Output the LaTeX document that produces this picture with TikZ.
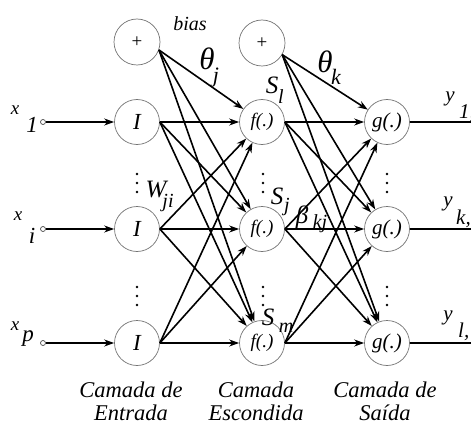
\documentclass[tikz,border=0pt]{standalone}
\usepackage{fontspec}
\setmainfont{Liberation Serif}
\usetikzlibrary{arrows.meta}
\newcommand{\fsz}[1]{\fontsize{#1}{#1}\selectfont}
\begin{document}
\begin{tikzpicture}[x=1pt,y=-1pt,
  neuron/.style={circle,draw=black!55,line width=0.7pt,minimum size=45pt,inner sep=0pt,font=\itshape\fsz{23}},
  conn/.style={line width=1.6pt,-{Stealth[length=10pt,width=7pt]}},
  wire/.style={line width=1.6pt},
  lbl/.style={inner sep=0pt,font=\itshape\fsz{18}},
  captext/.style={inner sep=0pt,font=\itshape\fsz{22.5},align=center},
  port/.style={circle,draw=black!70,line width=0.7pt,inner sep=0pt,minimum size=5pt,fill=white},
  dotmark/.style={circle,fill=black,inner sep=0pt,minimum size=2.6pt}]
\useasboundingbox (0,0) rectangle (471,425);
\clip (0,0) rectangle (471,425);
% bias nodes
\node[neuron,minimum size=46pt] (b1) at (137,42) {\upshape\fsz{19}+};
\node[neuron,minimum size=46pt] (b2) at (262,43) {\upshape\fsz{19}+};
% input layer
\node[neuron] (i1) at (137,122) {I};
\node[neuron] (i2) at (137,229) {I};
\node[neuron] (i3) at (137,343) {I};
% hidden layer
\node[neuron] (h1) at (262,122) {\fsz{19}f(.)};
\node[neuron] (h2) at (262,229) {\fsz{19}f(.)};
\node[neuron] (h3) at (262,343) {\fsz{19}f(.)};
% output layer
\node[neuron] (o1) at (387,122) {\fsz{21}g(.)};
\node[neuron] (o2) at (387,229) {\fsz{21}g(.)};
\node[neuron] (o3) at (387,343) {\fsz{21}g(.)};
% input ports
\node[port] (p1) at (43,122) {};
\node[port] (p2) at (43,229) {};
\node[port] (p3) at (43,343) {};
\foreach \k in {1,2,3} \draw[conn] (p\k) -- (i\k);
% connections
\foreach \a in {1,2,3} \foreach \b in {1,2,3} \draw[conn] (i\a.east) -- (h\b);
\foreach \b in {1,2,3} \draw[conn] (b1.-20) -- (h\b);
\foreach \a in {1,2,3} \foreach \b in {1,2,3} \draw[conn] (h\a.east) -- (o\b);
\foreach \b in {1,2,3} \draw[conn] (b2.-30) -- (o\b);
% outputs
\coordinate (e1) at (480,122);
\coordinate (e2) at (480,229);
\coordinate (e3) at (480,343);
\foreach \k in {1,2,3} \draw[wire] (o\k.east) -- (e\k);
% vertical dots
\foreach \x in {137,263,387} {
  \foreach \y in {174,183,192,287,296,305} \node[dotmark] at (\x,\y) {};
}
% labels
\node[lbl,font=\itshape\fsz{20}] (tbias) at (190,24) {bias};
\node[lbl,font=\itshape\fsz{31}] (thj) at (207,59) {θ};
\node[lbl,font=\itshape\fsz{22}] (thjs) at (216,78) {j};
\node[lbl,font=\itshape\fsz{31}] (thk) at (325,62) {θ};
\node[lbl,font=\itshape\fsz{22}] (thks) at (336,77) {k};
\node[lbl,font=\itshape\fsz{25}] (s1) at (272,85) {S};
\node[lbl,font=\itshape\fsz{20}] (s1s) at (281,97) {l};
\node[lbl,font=\itshape\fsz{25}] (sj) at (277,196) {S};
\node[lbl,font=\itshape\fsz{20}] (sjs) at (287,207) {j};
\node[lbl,font=\itshape\fsz{25}] (sm) at (268,317) {S};
\node[lbl,font=\itshape\fsz{20}] (sms) at (286,328) {m};
\node[lbl,font=\itshape\fsz{25}] (wji) at (156,190) {W};
\node[lbl,font=\itshape\fsz{20}] (wjis) at (168,203) {ji};
\node[lbl,font=\itshape\fsz{25}] (bkj) at (302,217) {β};
\node[lbl,font=\itshape\fsz{20}] (bkjs) at (320,224) {kj};
% input labels
\node[lbl,font=\itshape\fsz{19}] (x1) at (15,110) {x};
\node[lbl,font=\itshape\fsz{23}] (x1s) at (32,125) {1};
\node[lbl,font=\itshape\fsz{19}] (x2) at (18,216) {x};
\node[lbl,font=\itshape\fsz{23}] (x2s) at (32,236) {i};
\node[lbl,font=\itshape\fsz{19}] (x3) at (15,326) {x};
\node[lbl,font=\itshape\fsz{23}] (x3s) at (28,339) {p};
% output labels
\node[lbl,font=\itshape\fsz{21}] (y1) at (450,99) {y};
\node[lbl,font=\itshape\fsz{21},anchor=west] (y1s) at (459,113) {1,};
\node[lbl,font=\itshape\fsz{21}] (y2) at (448,204) {y};
\node[lbl,font=\itshape\fsz{21},anchor=west] (y2s) at (456,219) {k,};
\node[lbl,font=\itshape\fsz{21}] (y3) at (448,318) {y};
\node[lbl,font=\itshape\fsz{21},anchor=west] (y3s) at (458,332) {l,};
% captions
\node[captext] (c1a) at (131,390) {Camada de};
\node[captext] (c1b) at (131,413) {Entrada};
\node[captext] (c2a) at (256,390) {Camada};
\node[captext] (c2b) at (256,413) {Escondida};
\node[captext] (c3a) at (385,390) {Camada de};
\node[captext] (c3b) at (385,413) {Saída};
\end{tikzpicture}
\end{document}
